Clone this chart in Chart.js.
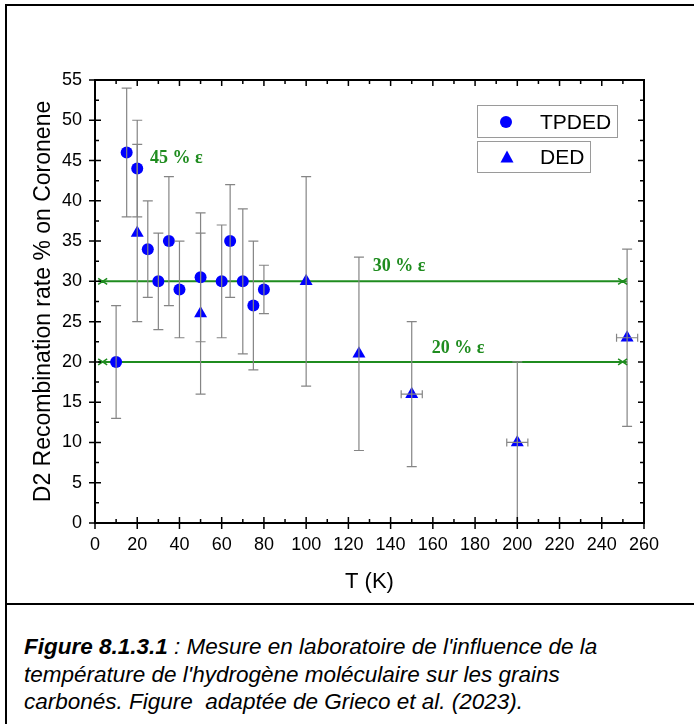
<!DOCTYPE html>
<html lang="fr">
<head>
<meta charset="UTF-8">
<title>D2 Recombination rate on Coronene</title>
<script src="https://cdn.jsdelivr.net/npm/chart.js"></script>
<style>
  body { margin:0; background:#fff; width:694px; height:724px; overflow:hidden; position:relative; font-family:'Liberation Sans', Arial, sans-serif; }
  .frame { position:absolute; left:5px; top:4px; width:720px; height:760px; border:2px solid #000; box-sizing:border-box; }
  .divider { position:absolute; left:5px; top:603px; width:720px; height:2px; background:#000; }
  #chart { position:absolute; left:0; top:0; }
  .caption { position:absolute; left:24px; top:633px; font-size:22.5px; line-height:27.5px; font-style:italic; color:#000; white-space:nowrap; }
  .caption b { font-weight:bold; }
</style>
</head>
<body>
<div class="frame"></div>
<div class="divider"></div>
<canvas id="chart" width="694" height="600"></canvas>
<div class="caption"><b>Figure 8.1.3.1</b> : Mesure en laboratoire de l'influence de la<br>température de l'hydrogène moléculaire sur les grains<br>carbonés. Figure&nbsp; adaptée de Grieco et al. (2023).</div>
<script>
// TPDED (circles)
const tpdedT  = [10, 15, 20, 25, 30, 35, 40, 50, 60, 64, 70, 75, 80];
const tpdedV  = [20, 46, 44, 34, 30, 35, 29, 30.5, 30, 35, 30, 27, 29];
const tpdedLo = [13, 38, 38, 28, 24, 27, 23, 22.5, 23, 28, 21, 19, 26];
const tpdedHi = [27, 54, 50, 40, 36, 43, 35, 38.5, 37, 42, 39, 35, 32];

// DED (triangles)
const dedT   = [20, 50, 100, 125, 150, 200, 252];
const dedV   = [36, 26, 30, 21, 16, 10, 23];
const dedLo  = [25, 16, 17, 9, 7, 0, 12];
const dedHi  = [47, 36, 43, 33, 25, 20, 34];
const dedTErr = [0, 0, 0, 0, 5, 5, 5];

// efficiency reference lines
const refLevels = [30, 20];
const refFrom = 1.5, refTo = 252;
const refLabels = [
  {text:'45 % ε', x:26, y:45.3},
  {text:'30 % ε', x:131.5, y:31.9},
  {text:'20 % ε', x:159.5, y:21.7}
];

const xTicks = [0,20,40,60,80,100,120,140,160,180,200,220,240,260];
const yTicks = [0,5,10,15,20,25,30,35,40,45,50,55];

const BLUE = '#0000ff', GREEN = '#1f8c1f', GREYBAR = '#858585';
const FONT = "'Liberation Sans', Arial, sans-serif";

const pts = (xs, ys) => xs.map((x,i)=>({x:x, y:ys[i]}));

const datasets = [
  { label:'TPDED', data:pts(tpdedT,tpdedV), pointStyle:'circle', pointRadius:6,
    backgroundColor:BLUE, borderColor:BLUE, borderWidth:0, showLine:false,
    lo:tpdedLo, hi:tpdedHi, xe:tpdedT.map(()=>0) },
  { label:'DED', data:pts(dedT,dedV), pointStyle:'triangle', pointRadius:7.5,
    backgroundColor:BLUE, borderColor:BLUE, borderWidth:0, showLine:false,
    lo:dedLo, hi:dedHi, xe:dedTErr }
];
refLevels.forEach(v=>{
  datasets.push({ label:'ref'+v, data:[{x:refFrom,y:v},{x:refTo,y:v}], showLine:true,
    borderColor:GREEN, borderWidth:2, pointRadius:0, isRef:true });
});

const decor = {
  id:'decor',
  afterDatasetsDraw(chart){
    const {ctx, scales:{x, y}} = chart;
    ctx.save();
    // error bars
    ctx.strokeStyle = GREYBAR; ctx.lineWidth = 1.2;
    chart.data.datasets.forEach(ds=>{
      if(!ds.lo) return;
      ds.data.forEach((p,i)=>{
        const px = x.getPixelForValue(p.x);
        const y1 = y.getPixelForValue(ds.lo[i]), y2 = y.getPixelForValue(ds.hi[i]);
        ctx.beginPath();
        ctx.moveTo(px, y1); ctx.lineTo(px, y2);
        if(ds.lo[i] > 0){ ctx.moveTo(px-5, y1); ctx.lineTo(px+5, y1); }
        ctx.moveTo(px-5, y2); ctx.lineTo(px+5, y2);
        if(ds.xe[i]){
          const py = y.getPixelForValue(p.y);
          const xa = x.getPixelForValue(p.x-ds.xe[i]), xb = x.getPixelForValue(p.x+ds.xe[i]);
          ctx.moveTo(xa, py); ctx.lineTo(xb, py);
          ctx.moveTo(xa, py-4); ctx.lineTo(xa, py+4);
          ctx.moveTo(xb, py-4); ctx.lineTo(xb, py+4);
        }
        ctx.stroke();
      });
    });
    // arrow ends of reference lines
    ctx.strokeStyle = GREEN; ctx.lineWidth = 1.5;
    refLevels.forEach(v=>{
      const py = y.getPixelForValue(v);
      const xa = x.getPixelForValue(refFrom), xb = x.getPixelForValue(refTo);
      ctx.beginPath();
      ctx.moveTo(xa, py-3); ctx.lineTo(xa+9, py+3);
      ctx.moveTo(xa, py+3); ctx.lineTo(xa+9, py-3);
      ctx.moveTo(xb, py-3); ctx.lineTo(xb-9, py+3);
      ctx.moveTo(xb, py+3); ctx.lineTo(xb-9, py-3);
      ctx.stroke();
    });
    // labels
    ctx.fillStyle = GREEN;
    ctx.font = "bold 18px 'Liberation Serif', 'Times New Roman', serif";
    ctx.textBaseline = 'middle'; ctx.textAlign = 'left';
    refLabels.forEach(l=>ctx.fillText(l.text, x.getPixelForValue(l.x), y.getPixelForValue(l.y)));
    ctx.restore();
  },
  afterDraw(chart){
    const {ctx, chartArea:a, scales:{x, y}} = chart;
    ctx.save();
    // axes frame
    ctx.strokeStyle = '#000'; ctx.lineWidth = 2;
    ctx.strokeRect(a.left, a.top, a.right-a.left, a.bottom-a.top);
    ctx.lineWidth = 1.5;
    ctx.beginPath();
    xTicks.forEach((t,i)=>{
      const px = x.getPixelForValue(t);
      ctx.moveTo(px, a.bottom+6); ctx.lineTo(px, a.bottom-6);
      ctx.moveTo(px, a.top); ctx.lineTo(px, a.top+6);
      if(i < xTicks.length-1){
        const pm = x.getPixelForValue(t+10);
        ctx.moveTo(pm, a.bottom); ctx.lineTo(pm, a.bottom-4);
        ctx.moveTo(pm, a.top); ctx.lineTo(pm, a.top+4);
      }
    });
    yTicks.forEach((t,i)=>{
      const py = y.getPixelForValue(t);
      ctx.moveTo(a.left-6, py); ctx.lineTo(a.left+6, py);
      ctx.moveTo(a.right, py); ctx.lineTo(a.right-6, py);
      if(i < yTicks.length-1){
        const pm = y.getPixelForValue(t+2.5);
        ctx.moveTo(a.left, pm); ctx.lineTo(a.left+4, pm);
        ctx.moveTo(a.right, pm); ctx.lineTo(a.right-4, pm);
      }
    });
    ctx.stroke();
    // legend
    const boxes = [
      {label:'TPDED', style:'circle', bx:477, by:105, bw:140, bh:32},
      {label:'DED', style:'triangle', bx:477, by:141, bw:113, bh:31}
    ];
    ctx.strokeStyle = '#9a9a9a'; ctx.lineWidth = 1;
    ctx.font = '21px ' + FONT; ctx.textBaseline = 'middle'; ctx.textAlign = 'left';
    boxes.forEach(b=>{
      ctx.strokeRect(b.bx+0.5, b.by+0.5, b.bw, b.bh);
      const cy = b.by + b.bh/2 + 1;
      ctx.fillStyle = BLUE;
      ctx.beginPath();
      if(b.style === 'circle'){ ctx.arc(b.bx+29, cy, 6, 0, Math.PI*2); }
      else { ctx.moveTo(b.bx+30, cy-7); ctx.lineTo(b.bx+36.5, cy+5); ctx.lineTo(b.bx+23.5, cy+5); ctx.closePath(); }
      ctx.fill();
      ctx.fillStyle = '#000';
      ctx.fillText(b.label, b.bx+63, cy+1);
    });
    ctx.restore();
  }
};

new Chart(document.getElementById('chart').getContext('2d'), {
  type:'scatter',
  data:{ datasets:datasets },
  options:{
    responsive:false,
    animation:false,
    devicePixelRatio:1,
    layout:{ padding:{ left:0, top:80, right:50, bottom:0 } },
    plugins:{ legend:{display:false}, tooltip:{enabled:false} },
    scales:{
      x:{
        type:'linear', min:0, max:260,
        afterBuildTicks:s=>{ s.ticks = xTicks.map(v=>({value:v})); },
        afterFit:s=>{ s.height = 77; },
        grid:{display:false, drawTicks:false},
        border:{display:false},
        ticks:{ color:'#000', padding:11, font:{family:FONT, size:18} },
        title:{ display:true, text:'T (K)', color:'#000', font:{family:FONT, size:22},
                padding:{top:4, bottom:5} }
      },
      y:{
        type:'linear', min:0, max:55,
        afterBuildTicks:s=>{ s.ticks = yTicks.map(v=>({value:v})); },
        afterFit:s=>{ s.width = 95; },
        grid:{display:false, drawTicks:false},
        border:{display:false},
        ticks:{ color:'#000', padding:13, font:{family:FONT, size:18} },
        title:{ display:true, text:'D2 Recombination rate % on Coronene', color:'#000',
                font:{family:FONT, size:23}, padding:{top:30, bottom:0} }
      }
    }
  },
  plugins:[decor]
});
</script>
</body>
</html>
